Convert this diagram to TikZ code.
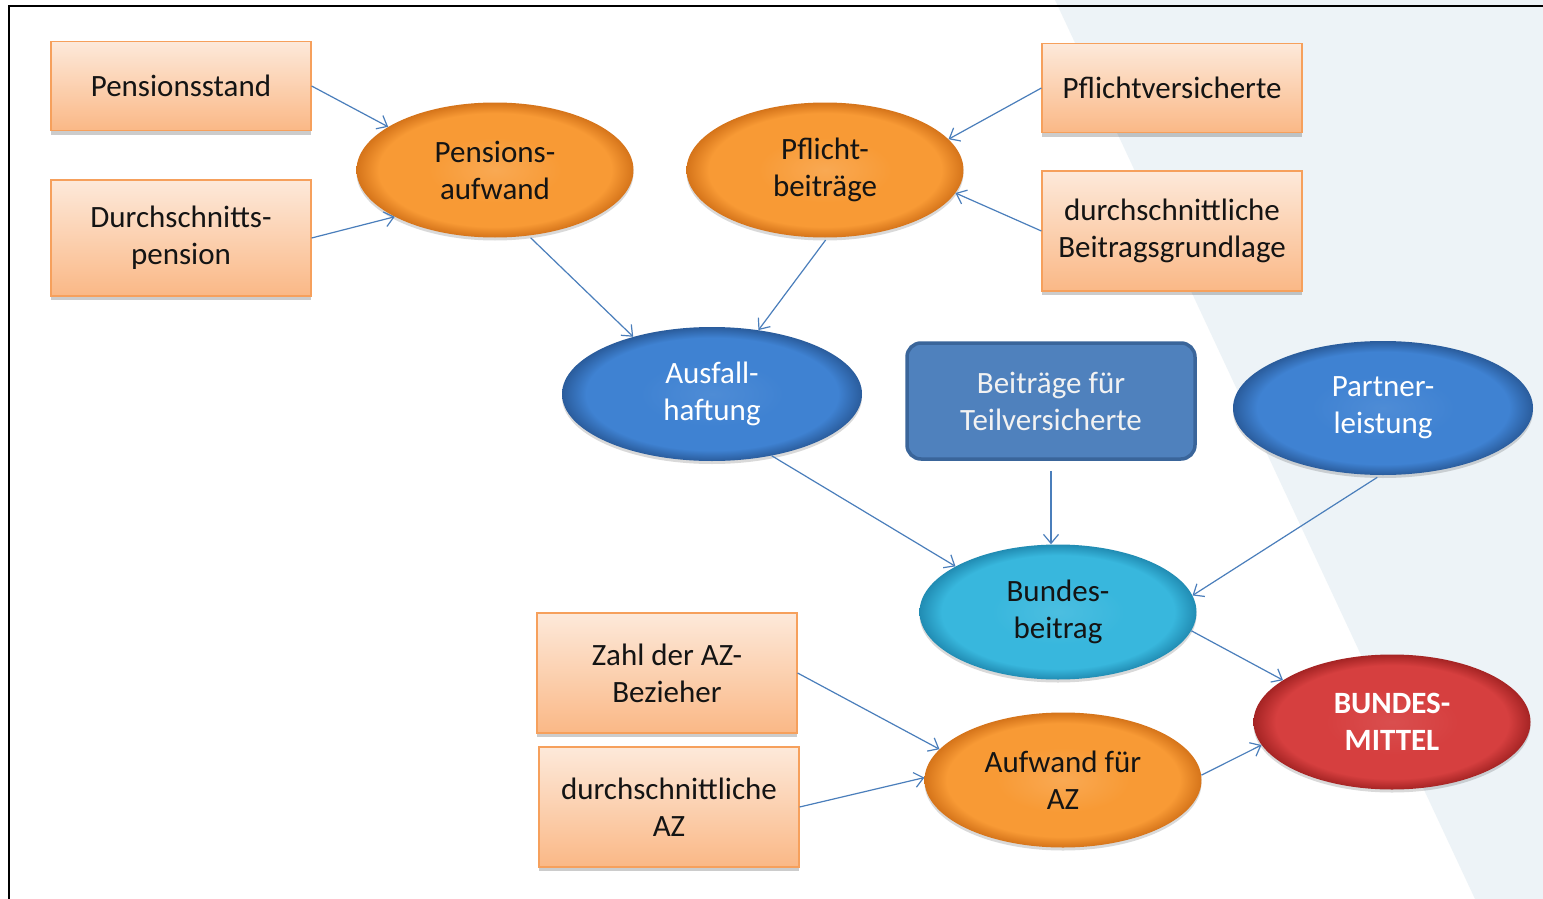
\documentclass[tikz,border=0pt]{standalone}
\usepackage{fontspec}
\setmainfont{Carlito}
\usetikzlibrary{shapes.geometric,shadows,arrows.meta,calc}
\definecolor{bgblue}{HTML}{EDF3F7}
\definecolor{boxtop}{HTML}{FDE9DA}
\definecolor{boxbot}{HTML}{FAB886}
\definecolor{boxline}{HTML}{F6A05C}
\definecolor{orin}{HTML}{F89A35}
\definecolor{orout}{HTML}{D5741A}
\definecolor{blin}{HTML}{3F82D2}
\definecolor{blout}{HTML}{2A5C9C}
\definecolor{cyin}{HTML}{38B7DD}
\definecolor{cyout}{HTML}{218CB3}
\definecolor{rdin}{HTML}{D63F3F}
\definecolor{rdout}{HTML}{A52424}
\definecolor{tvfill}{HTML}{4F81BD}
\definecolor{tvline}{HTML}{3A659A}
\definecolor{arr}{HTML}{4A7EBB}
\definecolor{txt}{HTML}{141414}
\pgfdeclareradialshading{orsh}{\pgfpoint{0bp}{0bp}}{color(0bp)=(orin!85!white); color(12bp)=(orin); color(21bp)=(orin); color(25bp)=(orout); color(50bp)=(orout)}
\pgfdeclareradialshading{blsh}{\pgfpoint{0bp}{0bp}}{color(0bp)=(blin!92!white); color(12bp)=(blin); color(21bp)=(blin); color(25bp)=(blout); color(50bp)=(blout)}
\pgfdeclareradialshading{cysh}{\pgfpoint{0bp}{0bp}}{color(0bp)=(cyin!90!white); color(12bp)=(cyin); color(21bp)=(cyin); color(25bp)=(cyout); color(50bp)=(cyout)}
\pgfdeclareradialshading{rdsh}{\pgfpoint{0bp}{0bp}}{color(0bp)=(rdin!92!white); color(12bp)=(rdin); color(21bp)=(rdin); color(25bp)=(rdout); color(50bp)=(rdout)}
\tikzset{
  every node/.style={font=\fontsize{31}{37}\selectfont, align=center, text=txt},
  obox/.style={rectangle, draw=boxline, line width=1.2pt, top color=boxtop, bottom color=boxbot,
    minimum width=260, inner sep=0pt,
    drop shadow={shadow xshift=0pt, shadow yshift=-4pt, opacity=0.2, fill=black}},
  ell/.style={ellipse, inner sep=0pt, minimum width=277, minimum height=135,
    drop shadow={shadow xshift=0pt, shadow yshift=-3pt, opacity=0.15, fill=black}},
  oell/.style={ell, shade, shading=orsh},
  bell/.style={ell, shade, shading=blsh, text=white, minimum width=300, minimum height=134},
  cell/.style={ell, shade, shading=cysh},
  rell/.style={ell, shade, shading=rdsh, text=white,
    font=\fontsize{31}{37}\selectfont\bfseries},
  tvbox/.style={rectangle, rounded corners=14, fill=tvfill, draw=tvline, line width=3.5pt,
    minimum width=288, minimum height=116, text=white!95!black},
  conn/.style={draw=arr, line width=1.2pt, -{Straight Barb[length=9pt,width=15pt]}},
}
\begin{document}
\begin{tikzpicture}[x=1pt,y=-1pt]
\useasboundingbox (0,0) rectangle (1543,899);
\fill[white] (0,0) rectangle (1543,899);
\fill[bgblue] (1055,0) -- (1543,0) -- (1543,899) -- (1475,899) -- cycle;
\draw[line width=2pt, black] (9,899) -- (9,6) -- (1543,6);

\node[obox, minimum height=89] (ps) at (181,86) {Pensionsstand};
\node[obox, minimum height=116] (dp) at (181,238) {Durchschnitts-\\pension};
\node[oell] (pa) at (495,170) {Pensions-\\aufwand};
\node[oell] (pb) at (825,170) {Pflicht-\\beiträge};
\node[obox, minimum height=89] (pv) at (1172,88) {Pflichtversicherte};
\node[obox, minimum height=120] (bg) at (1172,231) {durchschnittliche\\Beitragsgrundlage};
\node[bell] (ah) at (712,394) {Ausfall-\\haftung};
\node[tvbox] (tv) at (1051,401) {Beiträge für\\Teilversicherte};
\node[bell] (pl) at (1383,408) {Partner-\\leistung};
\node[cell] (bb) at (1058,612) {Bundes-\\beitrag};
\node[rell] (bm) at (1392,722) {BUNDES-\\MITTEL};
\node[oell] (az) at (1063,780) {Aufwand für\\AZ};
\node[obox, minimum height=120] (zb) at (667,673) {Zahl der AZ-\\Bezieher};
\node[obox, minimum height=120] (da) at (669,807) {durchschnittliche\\AZ};

\draw[conn] (ps.east) -- (pa.158);
\draw[conn] (dp.east) -- (pa.205);
\draw[conn, shorten <=3pt] (pa.297) -- (ah.144);
\draw[conn, shorten <=3pt] (pb.272) -- (ah.54);
\draw[conn] (pv.west) -- (pb.14);
\draw[conn] (bg.west) -- (pb.350);
\draw[conn] (ah.314) -- (bb.156);
\draw[conn, shorten <=10pt] (tv.south) -- (tv.south |- bb.north);
\draw[conn, shorten <=4pt] (pl.268) -- (bb.7);
\draw[conn] (bb.352) -- (bm.159);
\draw[conn] (zb.east) -- (az.166);
\draw[conn] (da.east) -- (az.179);
\draw[conn] (az.2) -- (bm.190);
\end{tikzpicture}
\end{document}
